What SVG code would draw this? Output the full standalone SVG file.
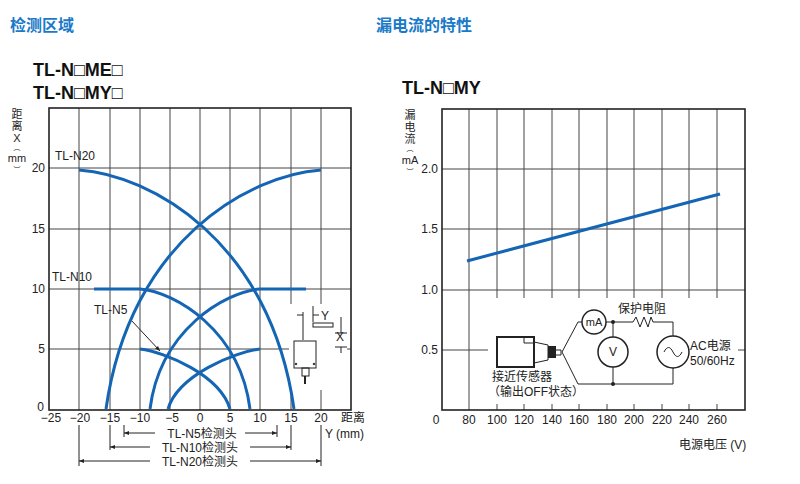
<svg xmlns="http://www.w3.org/2000/svg" width="800" height="484" viewBox="0 0 800 484">
<defs>
<style>
text{font-family:"Liberation Sans","Noto Sans CJK SC",sans-serif;fill:#222}
.t{font-size:16px;font-weight:bold;fill:#1a7ac8}
.h{font-size:18px;font-weight:bold;fill:#111}
.s{font-size:12px}
.v{font-size:11px}
.m{text-anchor:middle}
.e{text-anchor:end}
.g{stroke:#444;stroke-width:1;fill:none}
.f{stroke:#222;stroke-width:1.6;fill:none}
.c{stroke:#1565b5;stroke-width:3;fill:none}
.k{stroke:#222;stroke-width:1;fill:none}
</style>
<marker id="a" viewBox="0 0 10 10" refX="10" refY="5" markerWidth="7" markerHeight="5" orient="auto-start-reverse"><path d="M0,1 L10,5 L0,9 z" fill="#222"/></marker>
</defs>
<rect width="800" height="484" fill="#fff"/>
<text class="t" x="10" y="31">检测区域</text>
<text class="t" x="376" y="31">漏电流的特性</text>
<text class="h" x="33" y="76">TL-N□ME□</text>
<text class="h" x="33" y="99">TL-N□MY□</text>
<text class="h" x="402" y="94">TL-N□MY</text>

<g id="left-chart">
<g class="g">
<path d="M79,108V410M110,108V410M140,108V410M170,108V410M200,108V410M230,108V410M260,108V410M291,108V410M321,108V410"/>
<path d="M49,168H351M49,229H351M49,289H351M49,349H351"/>
</g>
<rect x="289" y="304" width="58" height="86" fill="#fff"/>
<rect x="49" y="108" width="302" height="302" class="f"/>
<g class="v">
<text class="m" x="17" y="118">距</text><text class="m" x="17" y="130">离</text><text class="m" x="17" y="142">X</text>
<text class="m" x="17" y="150" font-size="7">︵</text><text class="m" x="17" y="162">mm</text><text class="m" x="17" y="172" font-size="7">︶</text>
</g>
<g class="s">
<text class="e" x="45" y="172">20</text><text class="e" x="45" y="233">15</text><text class="e" x="45" y="293">10</text><text class="e" x="45" y="353">5</text><text class="e" x="44" y="411">0</text>
<text class="m" x="51" y="422">−25</text><text class="m" x="80" y="422">−20</text><text class="m" x="110" y="422">−15</text><text class="m" x="140" y="422">−10</text><text class="m" x="172" y="422">−5</text><text class="m" x="200" y="422">0</text><text class="m" x="230" y="422">5</text><text class="m" x="260" y="422">10</text><text class="m" x="291" y="422">15</text><text class="m" x="321" y="422">20</text>
<text x="341" y="422">距离</text><text x="325" y="438">Y (mm)</text>
<text x="55" y="160">TL-N20</text><text x="52" y="281">TL-N10</text><text x="94" y="314">TL-N5</text>
</g>
<line x1="131" y1="320" x2="160" y2="351" class="k" marker-end="url(#a)"/>
<g class="c">
<path d="M79,170C150,175 270,240 294,409"/>
<path d="M321,170C250,175 130,240 106,409"/>
<path d="M94,289H140C175,292 240,330 250,409"/>
<path d="M306,289H260C225,292 160,330 150,409"/>
<path d="M140,349C165,352 220,375 230,409"/>
<path d="M260,349C235,352 178,375 168,409"/>
</g>
<g id="sensor-icon" class="k">
<rect x="294" y="341" width="22" height="27"/>
<rect x="302" y="368" width="7" height="8"/>
<line x1="305" y1="376" x2="305" y2="384" stroke-width="2"/>
<rect x="313" y="323" width="20" height="4"/>
<path d="M303,312V340M313,306V322M297,315H303M313,315H319M335,333H347M335,347H347M341,317V333M341,347V353"/>
<circle cx="296" cy="364" r="0.8" fill="#222"/><circle cx="314" cy="364" r="0.8" fill="#222"/>
</g>
<text class="s" x="321" y="320">Y</text><text class="s" x="336" y="341">X</text>
<g class="k">
<path d="M124,425V437M277,425V437M110,425V450M291,425V450M79,425V466M321,425V466"/>
<line x1="155" y1="433" x2="124" y2="433" marker-end="url(#a)"/><line x1="245" y1="433" x2="277" y2="433" marker-end="url(#a)"/>
<line x1="150" y1="447" x2="110" y2="447" marker-end="url(#a)"/><line x1="250" y1="447" x2="291" y2="447" marker-end="url(#a)"/>
<line x1="150" y1="461" x2="79" y2="461" marker-end="url(#a)"/><line x1="250" y1="461" x2="321" y2="461" marker-end="url(#a)"/>
</g>
<g class="s">
<text class="m" x="202" y="438">TL-N5检测头</text>
<text class="m" x="200" y="452">TL-N10检测头</text>
<text class="m" x="200" y="466">TL-N20检测头</text>
</g>
</g>

<g id="right-chart">
<g class="g">
<path d="M469,109V410M497,109V410M524,109V410M552,109V410M579,109V410M607,109V410M634,109V410M662,109V410M689,109V410M717,109V410"/>
<path d="M442,169H745M442,229H745M442,290H745M442,350H745"/>
</g>
<rect x="488" y="298" width="250" height="106" fill="#fff"/>
<rect x="442" y="109" width="303" height="301" class="f"/>
<line x1="467" y1="261" x2="720" y2="194" class="c"/>
<g class="v">
<text class="m" x="410" y="119">漏</text><text class="m" x="410" y="131">电</text><text class="m" x="410" y="143">流</text>
<text class="m" x="410" y="151" font-size="7">︵</text><text class="m" x="410" y="164">mA</text><text class="m" x="410" y="174" font-size="7">︶</text>
</g>
<g class="s">
<text class="e" x="438" y="173">2.0</text><text class="e" x="438" y="233">1.5</text><text class="e" x="438" y="294">1.0</text><text class="e" x="438" y="354">0.5</text>
<text class="m" x="436" y="424">0</text><text class="m" x="469" y="424">80</text><text class="m" x="497" y="424">100</text><text class="m" x="524" y="424">120</text><text class="m" x="552" y="424">140</text><text class="m" x="579" y="424">160</text><text class="m" x="607" y="424">180</text><text class="m" x="634" y="424">200</text><text class="m" x="662" y="424">220</text><text class="m" x="689" y="424">240</text><text class="m" x="717" y="424">260</text>
<text x="679" y="449">电源电压 (V)</text>
</g>
<g id="circuit">
<rect x="497" y="337" width="37" height="30" fill="#fff" stroke="#222" stroke-width="2"/>
<path d="M524,337V343H534" class="k"/>
<path d="M534,342L548,345V360L534,363" class="k" stroke-width="1.5"/>
<rect x="548" y="346" width="8" height="12" fill="#222"/>
<path d="M556,350H561V355H556" class="k" stroke-width="2"/>
<path d="M562,352L578,322H582M606,322H633L636,317L640,327L644,317L648,327L651,317L653,322H673V336M673,368V384H578L562,352M613,322V337M613,367V384" class="k"/>
<circle cx="594" cy="322" r="12" fill="#fff" stroke="#222" stroke-width="1.5"/>
<circle cx="613" cy="352" r="15" fill="#fff" stroke="#222" stroke-width="1.5"/>
<circle cx="673" cy="352" r="16" fill="#fff" stroke="#222" stroke-width="1.5"/>
<path d="M664,352C667,346 670,346 673,352S679,358 682,352" class="k" stroke-width="1.5"/>
<circle cx="613" cy="322" r="2" fill="#222"/><circle cx="613" cy="384" r="2" fill="#222"/>
<g class="s">
<text class="m" x="594" y="326" font-size="11">mA</text>
<text class="m" x="613" y="356">V</text>
<text x="618" y="313">保护电阻</text>
<text x="690" y="350">AC电源</text>
<text x="690" y="365">50/60Hz</text>
<text x="492" y="381">接近传感器</text>
<text x="488" y="396">（输出OFF状态）</text>
</g>
</g>
</g>
</svg>
